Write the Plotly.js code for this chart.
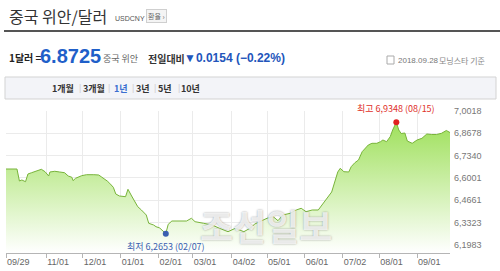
<!DOCTYPE html>
<html>
<head>
<meta charset="utf-8">
<script src="https://cdn.plot.ly/plotly-3.0.1.min.js"></script>
<style>html,body{margin:0;padding:0;background:#fff;}#chart{width:500px;height:271px;}</style>
</head>
<body>
<div id="chart"></div>
<script>
const dates = ['2017-09-29','2017-10-08','2017-10-10','2017-10-12','2017-10-15','2017-10-17','2017-10-20','2017-10-24','2017-10-28','2017-10-31',
'2017-11-03','2017-11-04','2017-11-08','2017-11-12','2017-11-16','2017-11-19','2017-11-22','2017-11-23','2017-11-25','2017-11-30',
'2017-12-04','2017-12-10','2017-12-14','2017-12-16','2017-12-18','2017-12-21','2017-12-23','2017-12-26','2017-12-28','2017-12-31',
'2018-01-05','2018-01-07','2018-01-10','2018-01-13','2018-01-15','2018-01-18','2018-01-22','2018-01-24','2018-01-28','2018-01-30',
'2018-02-02','2018-02-07','2018-02-09','2018-02-12','2018-02-19','2018-02-24','2018-02-28','2018-03-03','2018-03-10','2018-03-17',
'2018-03-23','2018-03-30','2018-04-05','2018-04-12','2018-04-17','2018-04-21','2018-04-25','2018-05-01','2018-05-06','2018-05-10',
'2018-05-14','2018-05-20','2018-05-25','2018-05-29','2018-06-02','2018-06-07','2018-06-12','2018-06-15','2018-06-19','2018-06-23',
'2018-06-26','2018-06-28','2018-06-30','2018-07-03','2018-07-07','2018-07-09','2018-07-12','2018-07-15','2018-07-18','2018-07-20',
'2018-07-23','2018-07-26','2018-07-30','2018-08-02','2018-08-04','2018-08-07','2018-08-10','2018-08-12','2018-08-15','2018-08-17',
'2018-08-19','2018-08-22','2018-08-24','2018-08-28','2018-09-01','2018-09-05','2018-09-09','2018-09-13','2018-09-17','2018-09-21',
'2018-09-25','2018-09-28'];
const values = [6.6535,6.6535,6.5814,6.5875,6.5772,6.6235,6.6313,6.6415,6.6517,6.6373,
6.6115,6.6355,6.6397,6.6355,6.6313,6.6115,6.6037,6.5833,6.5977,6.6133,
6.6193,6.6193,6.6175,6.6073,6.5977,6.5814,6.5676,6.5436,6.5034,6.4914,
6.4872,6.5316,6.4914,6.4571,6.4271,6.4073,6.3773,6.3274,6.3172,6.3070,
6.2992,6.2653,6.3214,6.3412,6.3412,6.3412,6.3575,6.3370,6.3274,6.3172,
6.2974,6.2770,6.2974,6.2770,6.2974,6.3232,6.3370,6.3575,6.3671,6.3431,
6.3773,6.3875,6.4073,6.4175,6.3971,6.4073,6.4073,6.4373,6.4776,6.5154,
6.5875,6.6355,6.6577,6.6373,6.6355,6.6673,6.6913,6.7076,6.7574,6.7718,
6.7976,6.8078,6.8078,6.8174,6.8277,6.8174,6.8475,6.8877,6.9348,6.8877,
6.8667,6.8697,6.8216,6.8078,6.8277,6.8379,6.8637,6.8607,6.8607,6.8679,
6.8847,6.8725];

const xTickVals = ['2017-09-29','2017-11-01','2017-12-01','2018-01-01','2018-02-01','2018-03-01','2018-04-02','2018-05-01','2018-06-01','2018-07-02','2018-08-01','2018-09-01'];
const xTickText = ['09/29','11/01','12/01','01/01','02/01','03/01','04/02','05/01','06/01','07/02','08/01','09/01'];
const yTickVals = [6.1983,6.3323,6.4661,6.6001,6.7340,6.8678,7.0018];
const yTickText = ['6,1983','6,3323','6,4661','6,6001','6,7340','6,8678','7,0018'];

const highDate = '2018-08-15', highValue = 6.9348, highLabel = '최고 6,9348 (08/15)';
const lowDate = '2018-02-07', lowValue = 6.2653, lowLabel = '최저 6,2653 (02/07)';

const tabs = ['1개월','3개월','1년','3년','5년','10년'];
const activeTab = '1년';

// layout helpers (pixel -> paper)
const L = 6, R = 450, T = 111, B = 253;
const xp = x => (x - L) / (R - L);
const yp = y => (B - y) / (B - T);

const FONT = 'Liberation Sans, Arial, Noto Sans CJK KR, sans-serif';
const KFONT = 'Noto Sans CJK KR, sans-serif';

const ann = [];
function txt(x, y, text, size, color, opts) {
  ann.push(Object.assign({xref:'paper', yref:'paper', x: xp(x), y: yp(y), text: text,
    showarrow:false, xanchor:'left', yanchor:'middle',
    font:{size:size, color:color, family:KFONT}}, opts || {}));
}
// watermark
ann.push({xref:'paper', yref:'paper', x: xp(266), y: yp(225), text:'<b>조선일보</b>', showarrow:false,
  xanchor:'center', yanchor:'middle',
  font:{size:36, color:'rgba(255,255,255,0.8)', family:KFONT, shadow:'0px 0px 2px rgba(90,90,90,0.75)'}});

txt(7, 16, '중국 위안/달러', 16, '#333');
txt(113, 18, 'USDCNY', 7, '#555', {font:{size:7,color:'#555',family:FONT}});
txt(146, 16, '환율 ›', 7, '#666', {bgcolor:'#f4f4f4', bordercolor:'#cfcfcf', borderwidth:1, borderpad:1});
txt(7, 57, '<b>1달러 =</b>', 10, '#222');
txt(38, 56, '<b>6.8725</b>', 20, '#1f5fc9', {font:{size:20,color:'#1f5fc9',family:FONT}});
txt(101, 58, '중국 위안', 9, '#666');
txt(146, 58, '<b>전일대비</b>', 10, '#333');
txt(182, 58, '<b>▼0.0154 (−0.22%)</b>', 12, '#2255bb', {font:{size:12,color:'#2255bb',family:FONT}});
txt(396, 60, '2018.09.28', 8, '#777', {font:{size:8,color:'#777',family:FONT}});
txt(437, 60, '모닝스타 기준', 8, '#888');

const tabX = [63, 94, 121, 143, 165, 190];
tabs.forEach((t, i) => {
  ann.push({xref:'paper', yref:'paper', x: xp(tabX[i]), y: yp(88), text: '<b>' + t + '</b>', showarrow:false,
    xanchor:'center', yanchor:'middle', font:{size:9, color: t === activeTab ? '#3a6fd0' : '#333', family:KFONT}});
  if (i < tabs.length - 1) {
    const sx = (tabX[i] + tabX[i+1]) / 2 + 1;
    ann.push({xref:'paper', yref:'paper', x: xp(sx), y: yp(88), text:'|', showarrow:false,
      xanchor:'center', yanchor:'middle', font:{size:9, color:'#d0d0d0', family:FONT}});
  }
});

// chart annotations
ann.push({x: highDate, y: highValue, xref:'x', yref:'y', text: highLabel, showarrow:false,
  yanchor:'bottom', yshift:5, font:{size:9, color:'#e0302a', family:KFONT}});
ann.push({x: lowDate, y: lowValue, xref:'x', yref:'y', text: lowLabel, showarrow:false,
  yanchor:'top', yshift:-4, font:{size:9, color:'#3a5fb0', family:KFONT}});

const shapes = [
  {type:'line', xref:'paper', yref:'paper', x0: xp(4), x1: xp(500), y0: yp(31), y1: yp(31), line:{color:'#555', width:2}},
  {type:'rect', xref:'paper', yref:'paper', x0: xp(5), x1: xp(496), y0: yp(99), y1: yp(77), fillcolor:'#f3f4f8', line:{color:'#d3d3d3', width:1}, layer:'below'},
  {type:'rect', xref:'paper', yref:'paper', x0: xp(387), x1: xp(394), y0: yp(64), y1: yp(56), fillcolor:'#fff', line:{color:'#aaa', width:1}}
];

const traces = [
  {x: dates, y: values, type:'scatter', mode:'lines', line:{color:'#78b43a', width:1},
   fill:'tozeroy', fillgradient:{type:'vertical', start:6.149, stop:6.94, colorscale:[[0,'rgba(255,255,255,1)'],[1,'#9ee05a']]},
   hoverinfo:'skip'},
  {x:[highDate], y:[highValue], type:'scatter', mode:'markers', marker:{color:'#e02020', size:6}, hoverinfo:'skip'},
  {x:[lowDate], y:[lowValue], type:'scatter', mode:'markers', marker:{color:'#3a5fb0', size:6}, hoverinfo:'skip'}
];

const layout = {
  width:500, height:271, margin:{l:L, r:500-R, t:T, b:271-B}, showlegend:false,
  paper_bgcolor:'#fff', plot_bgcolor:'#fff',
  xaxis:{type:'date', range:['2017-09-29','2018-09-28'], tickvals:xTickVals, ticktext:xTickText,
    showgrid:true, gridcolor:'#ebebeb', gridwidth:1, zeroline:false, showline:true, linecolor:'#b5b5b5',
    ticks:'outside', ticklen:4, tickcolor:'#b5b5b5', ticklabelposition:'outside right',
    tickfont:{size:9, color:'#666', family:FONT}, fixedrange:true},
  yaxis:{side:'right', range:[6.149, 7.0018], tickvals:yTickVals, ticktext:yTickText,
    showgrid:true, gridcolor:'#ebebeb', zeroline:false, showline:false, ticks:'', ticklabelstandoff:3,
    tickfont:{size:9, color:'#777', family:FONT}, fixedrange:true},
  annotations: ann, shapes: shapes
};

Plotly.newPlot('chart', traces, layout, {displayModeBar:false, staticPlot:true});
</script>
</body>
</html>
